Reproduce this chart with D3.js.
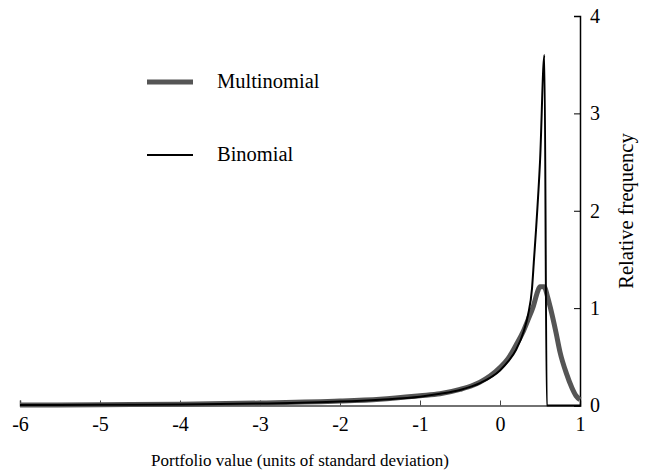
<!DOCTYPE html>
<html>
<head>
<meta charset="utf-8">
<script src="https://cdn.jsdelivr.net/npm/d3@7"></script>
<style>
  body { margin: 0; background: #fff; }
  text { font-family: "Liberation Serif", "Times New Roman", serif; fill: #000; }
</style>
</head>
<body>
<svg id="chart" width="648" height="471"></svg>
<script>
// values
var multiX = [-6, -5, -4, -3, -2, -1.5, -1, -0.75, -0.5, -0.33, -0.25, 0, 0.1, 0.2, 0.29, 0.35, 0.417, 0.47, 0.5, 0.55, 0.6, 0.625, 0.7, 0.75, 0.83, 0.9, 0.95, 1];
var multiY = [0.005, 0.008, 0.013, 0.025, 0.045, 0.065, 0.1, 0.12, 0.165, 0.21, 0.24, 0.39, 0.48, 0.62, 0.76, 0.88, 1.02, 1.17, 1.22, 1.22, 1.1, 1.02, 0.75, 0.55, 0.33, 0.18, 0.1, 0.06];

var binoX = [-6, -5, -4, -3, -2, -1.5, -1, -0.75, -0.5, -0.25, 0, 0.1, 0.2, 0.3, 0.35, 0.4, 0.425, 0.45, 0.5, 0.555, 0.585, 1];
var binoY = [0.004, 0.007, 0.011, 0.02, 0.04, 0.06, 0.09, 0.12, 0.16, 0.23, 0.36, 0.45, 0.57, 0.77, 0.93, 1.2, 1.5, 1.8, 2.5, 3.6, 0, 0];

var xTicks = [-6, -5, -4, -3, -2, -1, 0, 1];
var yTicks = [0, 1, 2, 3, 4];

var svg = d3.select('#chart');

var x = d3.scaleLinear().domain([-6, 1]).range([20, 580]);
var y = d3.scaleLinear().domain([0, 4]).range([405.5, 16]);

function pairs(xs, ys) {
    return xs.map(function(v, i) { return [v, ys[i]]; });
}

// plain hyphen for negatives, like the original
function tickText(d) {
    return String(d);
}

var line = d3.line()
    .x(function(d) { return x(d[0]); })
    .y(function(d) { return y(d[1]); })
    .curve(d3.curveMonotoneX);

// x axis, ticks pointing up
var xAxis = svg.append('g')
    .attr('transform', 'translate(0,' + y(0) + ')')
    .call(d3.axisBottom(x).tickValues(xTicks).tickSize(-5).tickPadding(11).tickFormat(tickText));
xAxis.select('.domain').attr('stroke', '#444').attr('stroke-width', 1.5);
xAxis.selectAll('.tick line').attr('stroke', '#444');
xAxis.selectAll('text')
    .attr('font-size', 20)
    .attr('font-family', '"Liberation Serif", serif')
    .attr('dy', '0.71em');

// y axis on the right, ticks pointing in
var yAxis = svg.append('g')
    .attr('transform', 'translate(' + x(1) + ',0)')
    .call(d3.axisRight(y).tickValues(yTicks).tickSize(-6).tickPadding(10).tickFormat(tickText));
yAxis.select('.domain').attr('stroke', '#000').attr('stroke-width', 1.5);
yAxis.selectAll('.tick line').attr('stroke', '#000');
yAxis.selectAll('text')
    .attr('font-size', 20)
    .attr('font-family', '"Liberation Serif", serif');

svg.append('path')
    .datum(pairs(multiX, multiY))
    .attr('d', line)
    .attr('fill', 'none')
    .attr('stroke', '#555')
    .attr('stroke-width', 5);

svg.append('path')
    .datum(pairs(binoX, binoY))
    .attr('d', line)
    .attr('fill', 'none')
    .attr('stroke', '#000')
    .attr('stroke-width', 2);

// labels
svg.append('text')
    .attr('x', 300)
    .attr('y', 466)
    .attr('text-anchor', 'middle')
    .attr('font-size', 17)
    .text('Portfolio value (units of standard deviation)');

svg.append('text')
    .attr('transform', 'translate(633,211) rotate(-90)')
    .attr('text-anchor', 'middle')
    .attr('font-size', 20.5)
    .text('Relative frequency');

// legend
var legend = [
    {name: 'Multinomial', color: '#555', width: 5, y: 82},
    {name: 'Binomial', color: '#000', width: 2, y: 155}
];
legend.forEach(function(d) {
    svg.append('line')
        .attr('x1', 147).attr('x2', 193)
        .attr('y1', d.y).attr('y2', d.y)
        .attr('stroke', d.color)
        .attr('stroke-width', d.width);
    svg.append('text')
        .attr('x', 217)
        .attr('y', d.y + 6)
        .attr('font-size', 20.5)
        .text(d.name);
});
</script>
</body>
</html>
